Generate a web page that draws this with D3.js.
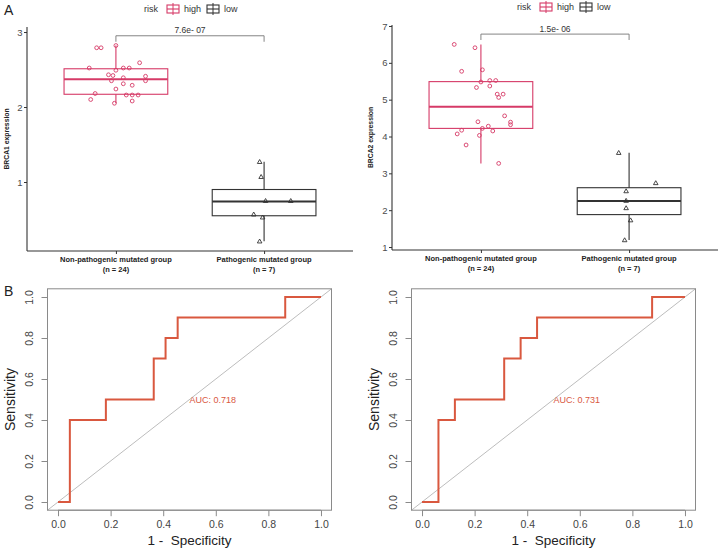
<!DOCTYPE html>
<html><head><meta charset="utf-8">
<script src="https://cdn.jsdelivr.net/npm/d3@7"></script>
<style>body{margin:0;background:#fff}svg{display:block;font-family:"Liberation Sans",Arial,sans-serif}</style>
</head><body><svg id="c" width="725" height="548"></svg>
<script>
// ---------- data ----------
const groups = ["Non-pathogenic mutated group", "Pathogenic mutated group"];
const groupN = ["(n = 24)", "(n = 7)"];
const riskLevels = ["high", "low"];

// BRCA1 expression (panel A, left)
const brca1High = [2.79,2.79,2.82,2.52,2.49,2.52,2.52,2.59,2.43,2.42,2.39,2.41,2.35,2.35,2.31,2.29,2.24,2.18,2.16,2.16,2.16,2.10,2.05,2.08];
const brca1HighJitter = [-0.13,-0.10,0,-0.18,0,0.05,0.09,0.16,-0.05,-0.02,0.05,0.20,0.20,-0.03,0.05,0.11,0,-0.14,0.07,0.11,0.15,-0.17,-0.01,0.11];
const brca1Low = [1.27,1.07,0.75,0.75,0.57,0.53,0.21];
const brca1LowJitter = [-0.03,-0.02,0.01,0.18,-0.07,-0.01,-0.03];
// box stats: [whiskerLow, q1, median, q3, whiskerHigh]
const brca1Stats = [[2.05,2.17,2.37,2.51,2.82],[0.21,0.55,0.74,0.90,1.27]];
const brca1Ticks = [1,2,3];
const brca1P = "7.6e- 07";

// BRCA2 expression (panel A, right)
const brca2High = [6.50,6.41,5.77,5.81,5.48,5.52,5.52,5.33,5.37,5.15,5.15,5.06,4.56,4.40,4.39,4.32,4.28,4.22,4.17,4.07,4.15,4.03,3.77,3.27];
const brca2HighJitter = [-0.18,-0.04,-0.13,0.01,0,0.06,0.10,-0.03,0.06,0.11,0.15,0.12,0.16,-0.02,0.20,0.20,0.05,0.01,-0.13,-0.16,0.08,-0.01,-0.10,0.12];
const brca2Low = [3.56,2.74,2.52,2.26,2.06,1.73,1.19];
const brca2LowJitter = [-0.07,0.18,-0.02,-0.02,-0.02,0.01,-0.03];
const brca2Stats = [[3.27,4.22,4.81,5.49,6.50],[1.19,1.88,2.25,2.61,3.56]];
const brca2Ticks = [1,2,3,4,5,6,7];
const brca2P = "1.5e- 06";

// ROC curves (panel B): 1 - specificity (x) and sensitivity (y)
const roc1Fpr = [0,0.045,0.045,0.182,0.182,0.364,0.364,0.409,0.409,0.455,0.455,0.864,0.864,1];
const roc1Tpr = [0,0,0.4,0.4,0.5,0.5,0.7,0.7,0.8,0.8,0.9,0.9,1,1];
const roc1Auc = "AUC: 0.718";
const roc2Fpr = [0,0.0625,0.0625,0.125,0.125,0.3125,0.3125,0.375,0.375,0.4375,0.4375,0.875,0.875,1];
const roc2Tpr = [0,0,0.4,0.4,0.5,0.5,0.7,0.7,0.8,0.8,0.9,0.9,1,1];
const roc2Auc = "AUC: 0.731";
const rocTicks = [0,0.2,0.4,0.6,0.8,1.0];

// ---------- drawing ----------
const svg = d3.select("#c");
const colHigh = "#d63a67", colLow = "#333333", rocCol = "#d9583f";

function boxPanel(o){
  const g = svg.append("g");
  const x = d3.scalePoint().domain(groups).range([o.x0, o.x1]).padding(0.6);
  const step = x.step();
  const y = d3.scaleLinear().domain(o.yDom).range([o.yBot, o.yTop]);
  const ya = g.append("g").attr("transform",`translate(${o.x0},0)`)
    .call(d3.axisLeft(y).tickValues(o.ticks).tickSize(3).tickFormat(d3.format("d")));
  ya.select(".domain").attr("d",`M0,${o.yBot}V${o.yTop}`).attr("stroke","#333").attr("stroke-width",1.1);
  ya.selectAll(".tick line").attr("stroke","#333");
  ya.selectAll(".tick text").attr("fill","#4d4d4d").attr("font-size",9.5).attr("x",-4.5);
  const xa = g.append("g").attr("transform",`translate(0,${o.yBot})`)
    .call(d3.axisBottom(x).tickSize(3).tickFormat(""));
  xa.select(".domain").attr("d",`M${o.x0},0H${o.x1}`).attr("stroke","#333").attr("stroke-width",1.1);
  xa.selectAll(".tick line").attr("stroke","#333");
  groups.forEach((gname,i)=>{
    const t = g.append("text").attr("x",x(gname)).attr("text-anchor","middle")
      .attr("font-size",7.5).attr("font-weight","bold").attr("fill","#222");
    t.append("tspan").attr("x",x(gname)).attr("y",o.yBot+11).text(gname);
    t.append("tspan").attr("x",x(gname)).attr("y",o.yBot+20.5).text(groupN[i]);
  });
  g.append("text").attr("transform",`translate(${o.titleX},${(o.yTop+o.yBot)/2}) rotate(-90)`)
    .attr("text-anchor","middle").attr("font-size",6.8).attr("font-weight","bold").attr("fill","#222")
    .text(o.title);
  const bw = step*0.7;
  o.stats.forEach((s,i)=>{
    const cx = x(groups[i]); const c = i===0?colHigh:colLow;
    g.append("line").attr("x1",cx).attr("x2",cx).attr("y1",y(s[0])).attr("y2",y(s[1])).attr("stroke",c).attr("stroke-width",1.1);
    g.append("line").attr("x1",cx).attr("x2",cx).attr("y1",y(s[3])).attr("y2",y(s[4])).attr("stroke",c).attr("stroke-width",1.1);
    g.append("rect").attr("x",cx-bw/2).attr("width",bw).attr("y",y(s[3])).attr("height",y(s[1])-y(s[3]))
      .attr("fill","none").attr("stroke",c).attr("stroke-width",1.1);
    g.append("line").attr("x1",cx-bw/2).attr("x2",cx+bw/2).attr("y1",y(s[2])).attr("y2",y(s[2])).attr("stroke",c).attr("stroke-width",2);
  });
  const cxH = x(groups[0]);
  o.high.forEach((v,i)=>{
    g.append("circle").attr("cx",cxH+o.highJ[i]*step).attr("cy",y(v)).attr("r",1.9)
      .attr("fill","none").attr("stroke",colHigh).attr("stroke-width",0.9);
  });
  const cxL = x(groups[1]);
  const tri = d3.symbol().type(d3.symbolTriangle).size(9);
  o.low.forEach((v,i)=>{
    g.append("path").attr("d",tri()).attr("transform",`translate(${cxL+o.lowJ[i]*step},${y(v)+0.4})`)
      .attr("fill","none").attr("stroke",colLow).attr("stroke-width",0.9);
  });
  const by = y(o.bracket[0]), bt = y(o.bracket[1]);
  g.append("path").attr("d",`M${cxH},${bt}V${by}H${cxL}V${bt}`).attr("fill","none").attr("stroke","#777").attr("stroke-width",0.9);
  g.append("text").attr("x",(cxH+cxL)/2).attr("y",by-2.5).attr("text-anchor","middle")
    .attr("font-size",8.5).attr("fill","#333").text(o.p);
  const ly = o.legY;
  g.append("text").attr("x",o.legX).attr("y",ly+3).attr("font-size",9).attr("fill","#333").text("risk");
  riskLevels.forEach((r,i)=>{
    const lx = o.legX + 23 + i*40; const c = i===0?colHigh:colLow;
    g.append("line").attr("x1",lx+6).attr("x2",lx+6).attr("y1",ly-6).attr("y2",ly+6).attr("stroke",c).attr("stroke-width",1);
    g.append("rect").attr("x",lx).attr("y",ly-4).attr("width",12).attr("height",8).attr("fill","#fff").attr("stroke",c).attr("stroke-width",1.1);
    g.append("line").attr("x1",lx).attr("x2",lx+12).attr("y1",ly).attr("y2",ly).attr("stroke",c).attr("stroke-width",1.1);
    g.append("line").attr("x1",lx+6).attr("x2",lx+6).attr("y1",ly-4).attr("y2",ly+4).attr("stroke",c).attr("stroke-width",1);
    g.append("text").attr("x",lx+17).attr("y",ly+3).attr("font-size",9).attr("fill","#333").text(r);
  });
}

boxPanel({x0:27,x1:353,yTop:27,yBot:251,yDom:[0.08,3.067],ticks:brca1Ticks,title:"BRCA1 expression",titleX:9,
  stats:brca1Stats,high:brca1High,highJ:brca1HighJitter,low:brca1Low,lowJ:brca1LowJitter,bracket:[2.95,2.87],p:brca1P,legX:144,legY:9});
boxPanel({x0:392,x1:718,yTop:25,yBot:250,yDom:[0.919,7.027],ticks:brca2Ticks,title:"BRCA2 expression",titleX:373,
  stats:brca2Stats,high:brca2High,highJ:brca2HighJitter,low:brca2Low,lowJ:brca2LowJitter,bracket:[6.78,6.62],p:brca2P,legX:517,legY:7});

function rocPanel(o){
  const g = svg.append("g");
  const x = d3.scaleLinear().domain([-0.04,1.04]).range([o.x0,o.x1]);
  const y = d3.scaleLinear().domain([-0.04,1.04]).range([510.2,288.8]);
  const [x0,x1] = x.range(), [yb,yt] = y.range();
  g.append("line").attr("x1",x(-0.04)).attr("y1",y(-0.04)).attr("x2",x(1.04)).attr("y2",y(1.04)).attr("stroke","#bdbdbd").attr("stroke-width",1);
  g.append("rect").attr("x",x0).attr("y",yt).attr("width",x1-x0).attr("height",yb-yt).attr("fill","none").attr("stroke","#8a8a8a").attr("stroke-width",1);
  const xa = g.append("g").attr("transform",`translate(0,${yb})`).call(d3.axisBottom(x).tickValues(rocTicks).tickSize(6).tickPadding(4).tickFormat(d3.format(".1f")));
  xa.select(".domain").attr("d",`M${x(0)},0H${x(1)}`).attr("stroke","#8a8a8a");
  xa.selectAll(".tick line").attr("stroke","#8a8a8a");
  xa.selectAll(".tick text").attr("font-size",10.5).attr("fill","#444");
  const ya = g.append("g").attr("transform",`translate(${x0},0)`).call(d3.axisLeft(y).tickValues(rocTicks).tickSize(6).tickFormat(d3.format(".1f")));
  ya.select(".domain").attr("d",`M0,${y(0)}V${y(1)}`).attr("stroke","#8a8a8a");
  ya.selectAll(".tick line").attr("stroke","#8a8a8a");
  ya.selectAll(".tick text").attr("font-size",10.5).attr("fill","#444")
    .attr("x",0).attr("dy",0).attr("text-anchor","middle").attr("transform","translate(-15,0) rotate(-90)");
  g.append("text").attr("x",x(0.5)).attr("y",545).attr("text-anchor","middle").attr("font-size",13.5).attr("fill","#222")
    .style("white-space","pre").text("1 -  Specificity");
  g.append("text").attr("transform",`translate(${x0-33},${y(0.5)}) rotate(-90)`).attr("text-anchor","middle").attr("font-size",14).attr("fill","#222").text("Sensitivity");
  const pts = o.fpr.map((f,i)=>[x(f),y(o.tpr[i])]);
  g.append("path").attr("d",d3.line()(pts)).attr("fill","none").attr("stroke",rocCol).attr("stroke-width",2);
  g.append("text").attr("x",x(0.5)).attr("y",y(0.5)+3.5).attr("font-size",9).attr("fill",rocCol).text(o.auc);
}
rocPanel({x0:47.5,x1:331.5,fpr:roc1Fpr,tpr:roc1Tpr,auc:roc1Auc});
rocPanel({x0:411.5,x1:695.5,fpr:roc2Fpr,tpr:roc2Tpr,auc:roc2Auc});

svg.append("text").attr("x",4).attr("y",15).attr("font-size",14).attr("fill","#222").text("A");
svg.append("text").attr("x",4).attr("y",296).attr("font-size",14).attr("fill","#222").text("B");
</script></body></html>
